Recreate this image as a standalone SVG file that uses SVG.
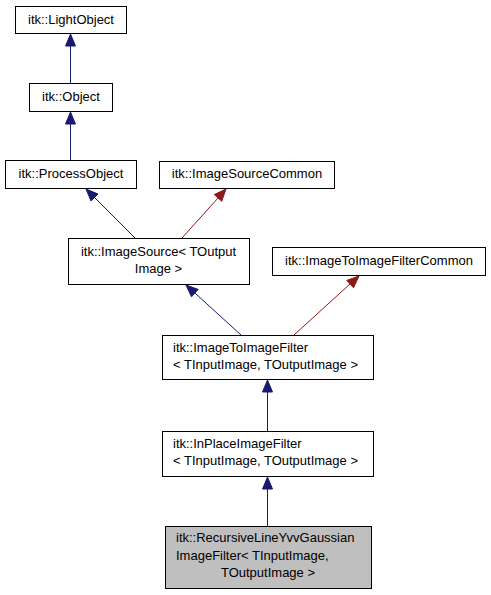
<svg xmlns="http://www.w3.org/2000/svg" width="491" height="595" viewBox="0 0 491 595">
<style>
.n rect{fill:#fff;stroke:#000;stroke-width:1}
.n text{font-family:"Liberation Sans",Arial,sans-serif;font-size:13px;fill:#000}
.c{text-anchor:middle}
.e{fill:none;stroke-width:1}
.b{stroke:#191970}
.r{stroke:#8b1a1a}
.hb{fill:#191970;stroke:#191970}
.hr{fill:#8b1a1a;stroke:#8b1a1a}
</style>
<g id="edges">
<path class="e b" d="M70.5,83V46"/><polygon class="hb" points="70.5,34 75.5,46 65.5,46"/>
<path class="e b" d="M70.5,160V124"/><polygon class="hb" points="70.5,112 75.5,124 65.5,124"/>
<path class="e b" d="M135,238L94.5,197.5"/><polygon class="hb" points="86,189 98,194 91,201"/>
<path class="e r" d="M182,238L218,198"/><polygon class="hr" points="226,189 221.7,201.3 214.3,194.6"/>
<path class="e b" d="M241,335L194.9,293"/><polygon class="hb" points="186,285 198.2,289.4 191.5,296.8"/>
<path class="e r" d="M294,335L350,284"/><polygon class="hr" points="359,276 353.5,287.8 346.8,280.4"/>
<path class="e b" d="M267.5,431V392"/><polygon class="hb" points="267.5,380 272.5,392 262.5,392"/>
<path class="e b" d="M267.5,526V489"/><polygon class="hb" points="267.5,477 272.5,489 262.5,489"/>
</g>
<g id="LightObject" class="n"><rect x="15.5" y="6.5" width="111" height="27"/><text class="c" x="71" y="24">itk::LightObject</text></g>
<g id="Object" class="n"><rect x="29.5" y="83.5" width="83" height="28"/><text class="c" x="71" y="101">itk::Object</text></g>
<g id="ProcessObject" class="n"><rect x="5.5" y="160.5" width="131" height="28"/><text class="c" x="71" y="178">itk::ProcessObject</text></g>
<g id="ImageSourceCommon" class="n"><rect x="159.5" y="161.5" width="175" height="27"/><text class="c" x="247" y="178">itk::ImageSourceCommon</text></g>
<g id="ImageSource" class="n"><rect x="68.5" y="238.5" width="181" height="46"/><text class="c" x="158.5" y="256">itk::ImageSource&lt; TOutput</text><text class="c" x="158.5" y="273">Image &gt;</text></g>
<g id="ImageToImageFilterCommon" class="n"><rect x="272.5" y="247.5" width="213" height="28"/><text class="c" x="379" y="265">itk::ImageToImageFilterCommon</text></g>
<g id="ImageToImageFilter" class="n"><rect x="162.5" y="335.5" width="211" height="44"/><text x="173" y="352">itk::ImageToImageFilter</text><text x="173" y="369">&lt; TInputImage, TOutputImage &gt;</text></g>
<g id="InPlaceImageFilter" class="n"><rect x="162.5" y="431.5" width="211" height="45"/><text x="173" y="448">itk::InPlaceImageFilter</text><text x="173" y="465">&lt; TInputImage, TOutputImage &gt;</text></g>
<g id="RecursiveLineYvvGaussianImageFilter" class="n"><rect x="165.5" y="526.5" width="206" height="62" style="fill:#bfbfbf"/><text x="176" y="542">itk::RecursiveLineYvvGaussian</text><text x="176" y="560">ImageFilter&lt; TInputImage,</text><text class="c" x="268" y="577">TOutputImage &gt;</text></g>
</svg>
